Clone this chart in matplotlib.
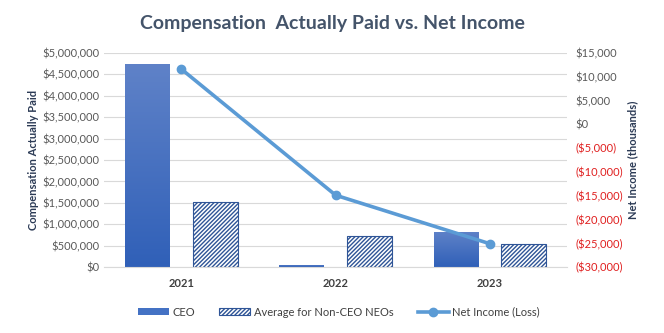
import numpy as np
import matplotlib.pyplot as plt
from matplotlib.ticker import FuncFormatter

plt.rcParams['font.family'] = ['Lato', 'DejaVu Sans']
plt.rcParams['hatch.color'] = '#2f5597'
plt.rcParams['hatch.linewidth'] = 1.0

## Data
years = ['2021', '2022', '2023']
ceo_cap = [4740000, 50000, 820000]
neo_cap = [1520000, 720000, 540000]
net_income = [11600, -14900, -25100]  # thousands

x = np.arange(len(years))
w = 0.29

fig = plt.figure(figsize=(6.64, 3.33), dpi=100)
ax = fig.add_axes([0.157, 0.198, 0.697, 0.643])

bars = ax.bar(x - 0.22, ceo_cap, w, color='#4472c4', zorder=2, label='CEO')
ax.bar(x + 0.22, neo_cap, w, color='white', edgecolor='#2f5597', linewidth=0.8,
       hatch='////////', zorder=2, label='Average for Non-CEO NEOs')

# vertical gradient on the CEO bars
grad = np.linspace(0, 1, 256).reshape(-1, 1)
cmap = plt.matplotlib.colors.LinearSegmentedColormap.from_list('g', ['#3060b8', '#5f82c8'])
for b in bars:
    x0, y0 = b.get_x(), b.get_y()
    im = ax.imshow(grad, extent=[x0, x0 + b.get_width(), y0, y0 + b.get_height()],
                   origin='lower', aspect='auto', cmap=cmap, zorder=2.5)
    im.set_clip_path(b)

ax.set_xlim(-0.5, 2.5)
ax.set_ylim(0, 5000000)
ax.set_yticks(np.arange(0, 5000001, 500000))
ax.yaxis.set_major_formatter(FuncFormatter(lambda v, p: f'${v:,.0f}'))
ax.set_xticks(x)
ax.set_xticklabels(years, fontweight='bold', color='#404040', fontsize=9)
ax.grid(axis='y', color='#d9d9d9', linewidth=0.8, zorder=0)
ax.tick_params(length=0, labelsize=8, labelcolor='#595959')
ax.tick_params(axis='x', pad=8, labelcolor='#404040')
for s in ax.spines.values():
    s.set_visible(False)
ax.spines['bottom'].set_visible(True)
ax.spines['bottom'].set_color('#d9d9d9')
ax.set_ylabel('Compensation Actually Paid', fontweight='bold', fontsize=8,
              color='#2b3a55', labelpad=2)

ax2 = ax.twinx()
ax2.plot(x, net_income, color='#5b9bd5', linewidth=2.6, marker='o', markersize=6,
         label='Net Income (Loss)', zorder=3)
ax2.set_ylim(-30000, 15000)
ax2.set_yticks(np.arange(-30000, 15001, 5000))
ax2.yaxis.set_major_formatter(FuncFormatter(
    lambda v, p: f'${v:,.0f}' if v >= 0 else f'(${-v:,.0f})'))
ax2.tick_params(length=0, labelsize=8, labelcolor='#595959', pad=6)
for t, v in zip(ax2.get_yticklabels(), ax2.get_yticks()):
    if v < 0:
        t.set_color('#e02020')
for s in ax2.spines.values():
    s.set_visible(False)
ax2.set_ylabel('Net Income (thousands)', fontweight='bold', fontsize=8,
               color='#2b3a55', labelpad=3)

fig.suptitle('Compensation  Actually Paid vs. Net Income', fontsize=14,
             fontweight='bold', color='#44546a', y=0.955)

h1, l1 = ax.get_legend_handles_labels()
h2, l2 = ax2.get_legend_handles_labels()
fig.legend(h1 + h2, l1 + l2, loc='center', bbox_to_anchor=(0.51, 0.063), ncol=3,
           frameon=False, fontsize=8, labelcolor='#404040', handlelength=2.8,
           columnspacing=2.2, handletextpad=0.3, handleheight=0.6)

plt.savefig('out.png', dpi=100)
